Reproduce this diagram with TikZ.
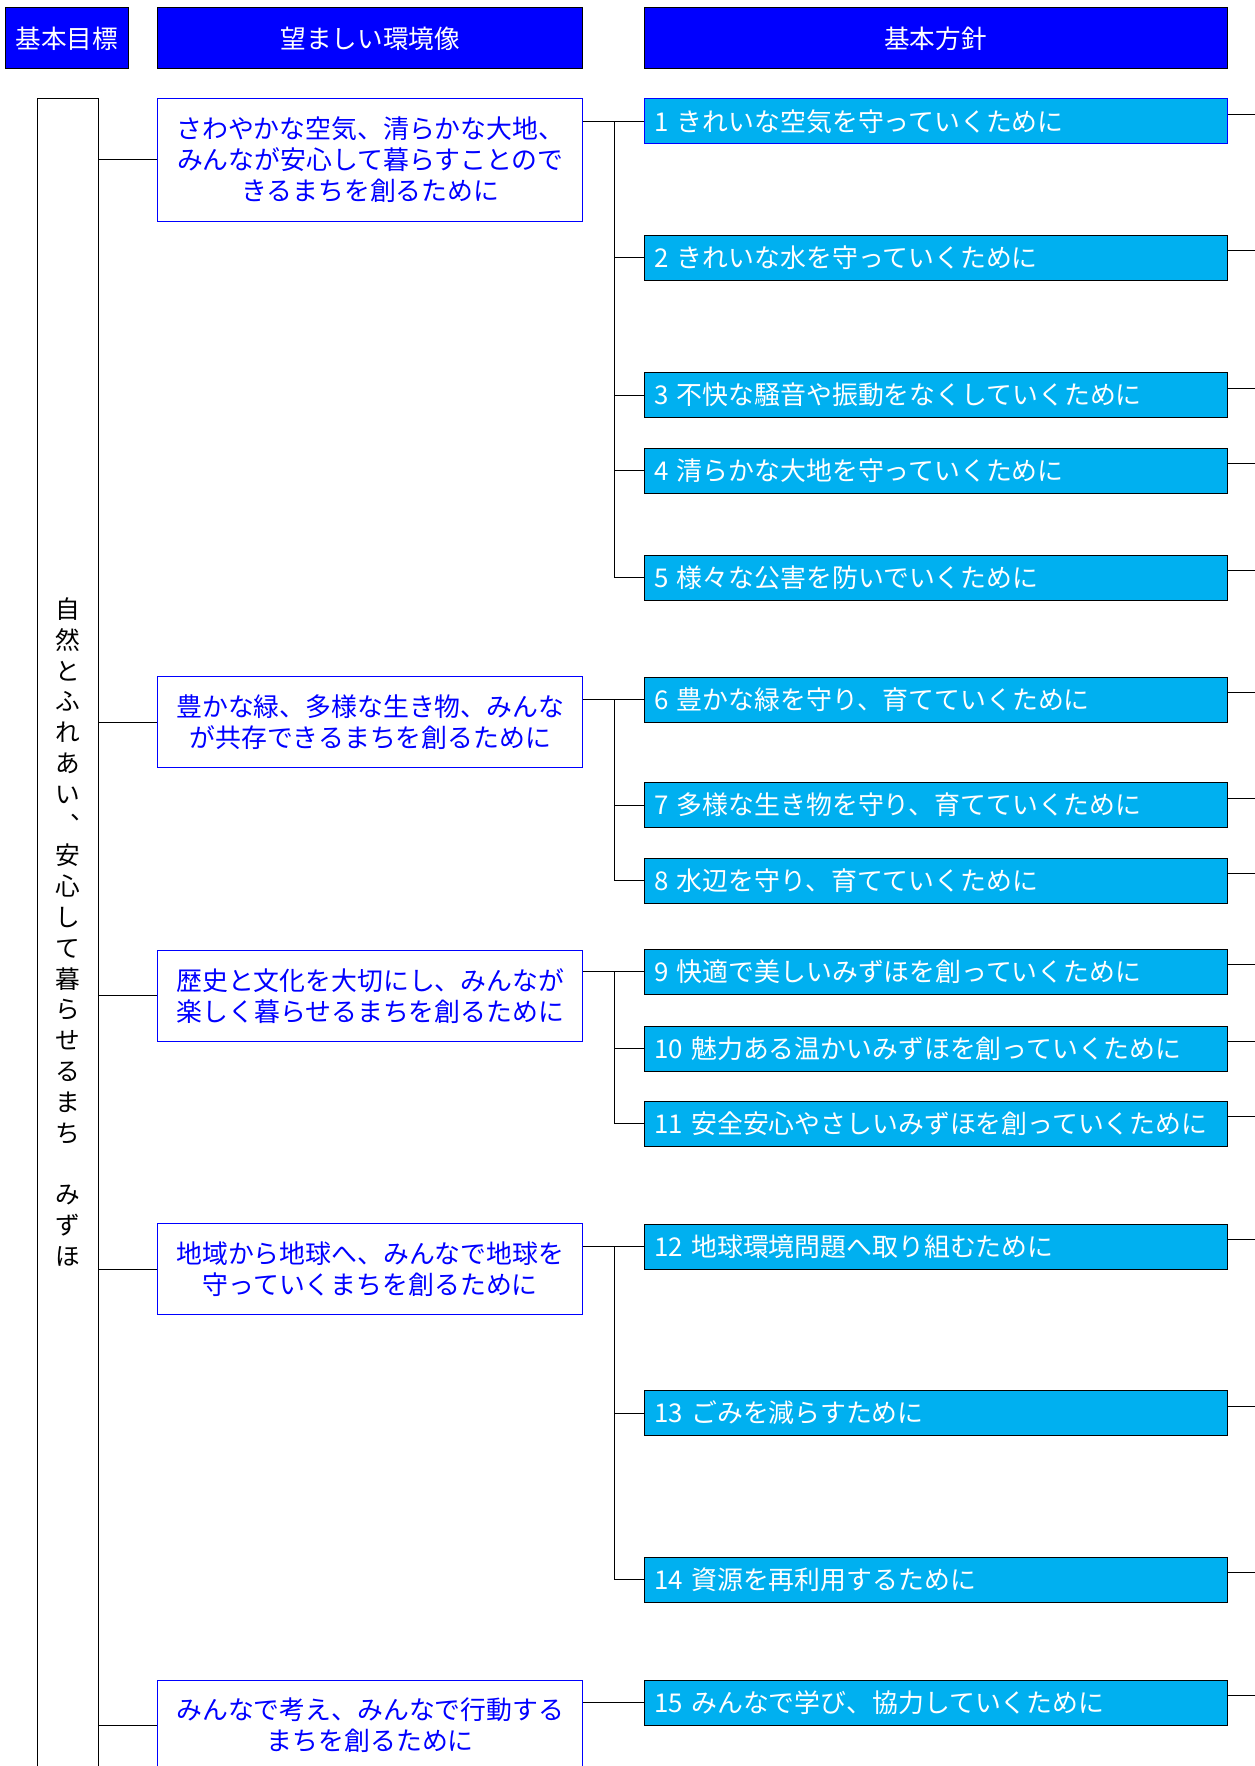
\documentclass[tikz,border=0pt]{standalone}
\usepackage{fontspec}
\setmainfont{Noto Sans CJK JP}
\definecolor{hdrblue}{RGB}{0,0,255}
\definecolor{polcyan}{RGB}{0,176,240}
\tikzset{every picture/.style={line width=0.75pt}}
\tikzset{
  header/.style={draw=black, fill=hdrblue, text=white, inner sep=0pt, minimum height=45.75pt, font=\fontsize{19.2pt}{22pt}\selectfont},
  vision/.style={draw=hdrblue, fill=white, text=hdrblue, inner sep=0pt, minimum width=319pt, text width=305pt, align=center, font=\fontsize{19.4pt}{23.2pt}\selectfont},
  policy/.style={draw=black, fill=polcyan, text=white, inner xsep=7.5pt, inner ysep=0pt, minimum height=33.75pt, text width=422.25pt, align=left, font=\fontsize{19.4pt}{22pt}\selectfont},
}

\begin{document}
\begin{tikzpicture}[x=0.75pt,y=0.75pt,yscale=-1,xscale=1]
	\useasboundingbox (0,0) rectangle (1255,1766);
	%Headers
	\node [header, minimum width=91.8pt] (hgoal) at (66.8,38.5) {基本目標};
	\node [header, minimum width=319pt] (hvision) at (370.3,38.5) {望ましい環境像};
	\node [header, minimum width=437.25pt] (hpolicy) at (935.5,38.5) {基本方針};
	
	%Goal box
	\node [draw=black, fill=white, inner sep=0pt, minimum width=45.75pt, minimum height=1275.75pt] (goal) at (67.5,949.5) {};
	\node [align=center, inner sep=0pt, font=\fontsize{18.5pt}{23.1pt}\selectfont] (goaltext) at (67.5,932) {自\\然\\と\\ふ\\れ\\あ\\い\\︑\\安\\心\\し\\て\\暮\\ら\\せ\\る\\ま\\ち\\\mbox{}\\み\\ず\\ほ};
	
	%Visions
	\node [vision, minimum height=91.5pt] (v1) at (370.3,160) {さわやかな空気、清らかな大地、\\みんなが安心して暮らすことので\\きるまちを創るために};
	\node [vision, minimum height=68.25pt] (v2) at (370.3,722.3) {豊かな緑、多様な生き物、みんな\\が共存できるまちを創るために};
	\node [vision, minimum height=68.25pt] (v3) at (370.3,995.7) {歴史と文化を大切にし、みんなが\\楽しく暮らせるまちを創るために};
	\node [vision, minimum height=68.25pt] (v4) at (370.3,1269) {地域から地球へ、みんなで地球を\\守っていくまちを創るために};
	\node [vision, minimum height=68.25pt] (v5) at (370.3,1725.5) {みんなで考え、みんなで行動する\\まちを創るために};
	
	%Policies
	\node [policy, draw=hdrblue] (p1) at (935.5,121.5) {1 きれいな空気を守っていくために};
	\node [policy] (p2) at (935.5,257.5) {2 きれいな水を守っていくために};
	\node [policy] (p3) at (935.5,395.2) {3 不快な騒音や振動をなくしていくために};
	\node [policy] (p4) at (935.5,470.5) {4 清らかな大地を守っていくために};
	\node [policy] (p5) at (935.5,577.5) {5 様々な公害を防いでいくために};
	\node [policy] (p6) at (935.5,699.5) {6 豊かな緑を守り、育てていくために};
	\node [policy] (p7) at (935.5,805) {7 多様な生き物を守り、育てていくために};
	\node [policy] (p8) at (935.5,880.5) {8 水辺を守り、育てていくために};
	\node [policy] (p9) at (935.5,971.5) {9 快適で美しいみずほを創っていくために};
	\node [policy] (p10) at (935.5,1048.5) {10 魅力ある温かいみずほを創っていくために};
	\node [policy] (p11) at (935.5,1123.5) {11 安全安心やさしいみずほを創っていくために};
	\node [policy] (p12) at (935.5,1246.5) {12 地球環境問題へ取り組むために};
	\node [policy] (p13) at (935.5,1413) {13 ごみを減らすために};
	\node [policy] (p14) at (935.5,1579.5) {14 資源を再利用するために};
	\node [policy] (p15) at (935.5,1702.5) {15 みんなで学び、協力していくために};
	
	%Straight Lines: goal to visions
	\foreach \v in {1,...,5}
	  \draw (goal.east |- v\v.west) -- (v\v.west);
	
	%Straight Lines: visions to policies
	\coordinate (bus) at (614,0);
	\draw (v1.east |- p1.west) -- (p1.west);
	\draw (bus |- p1.west) -- (bus |- p5.west);
	\foreach \k in {2,...,5}
	  \draw (bus |- p\k.west) -- (p\k.west);
	\draw (v2.east |- p6.west) -- (p6.west);
	\draw (bus |- p6.west) -- (bus |- p8.west);
	\foreach \k in {7,8}
	  \draw (bus |- p\k.west) -- (p\k.west);
	\draw (v3.east |- p9.west) -- (p9.west);
	\draw (bus |- p9.west) -- (bus |- p11.west);
	\foreach \k in {10,11}
	  \draw (bus |- p\k.west) -- (p\k.west);
	\draw (v4.east |- p12.west) -- (p12.west);
	\draw (bus |- p12.west) -- (bus |- p14.west);
	\foreach \k in {13,14}
	  \draw (bus |- p\k.west) -- (p\k.west);
	\draw (v5.east |- p15.west) -- (p15.west);
	
	%Straight Lines: stubs on the right
	\foreach \k in {1,...,15}
	  \draw (p\k.east) ++(0,-7) -- ++(35,0);
\end{tikzpicture}
\end{document}
